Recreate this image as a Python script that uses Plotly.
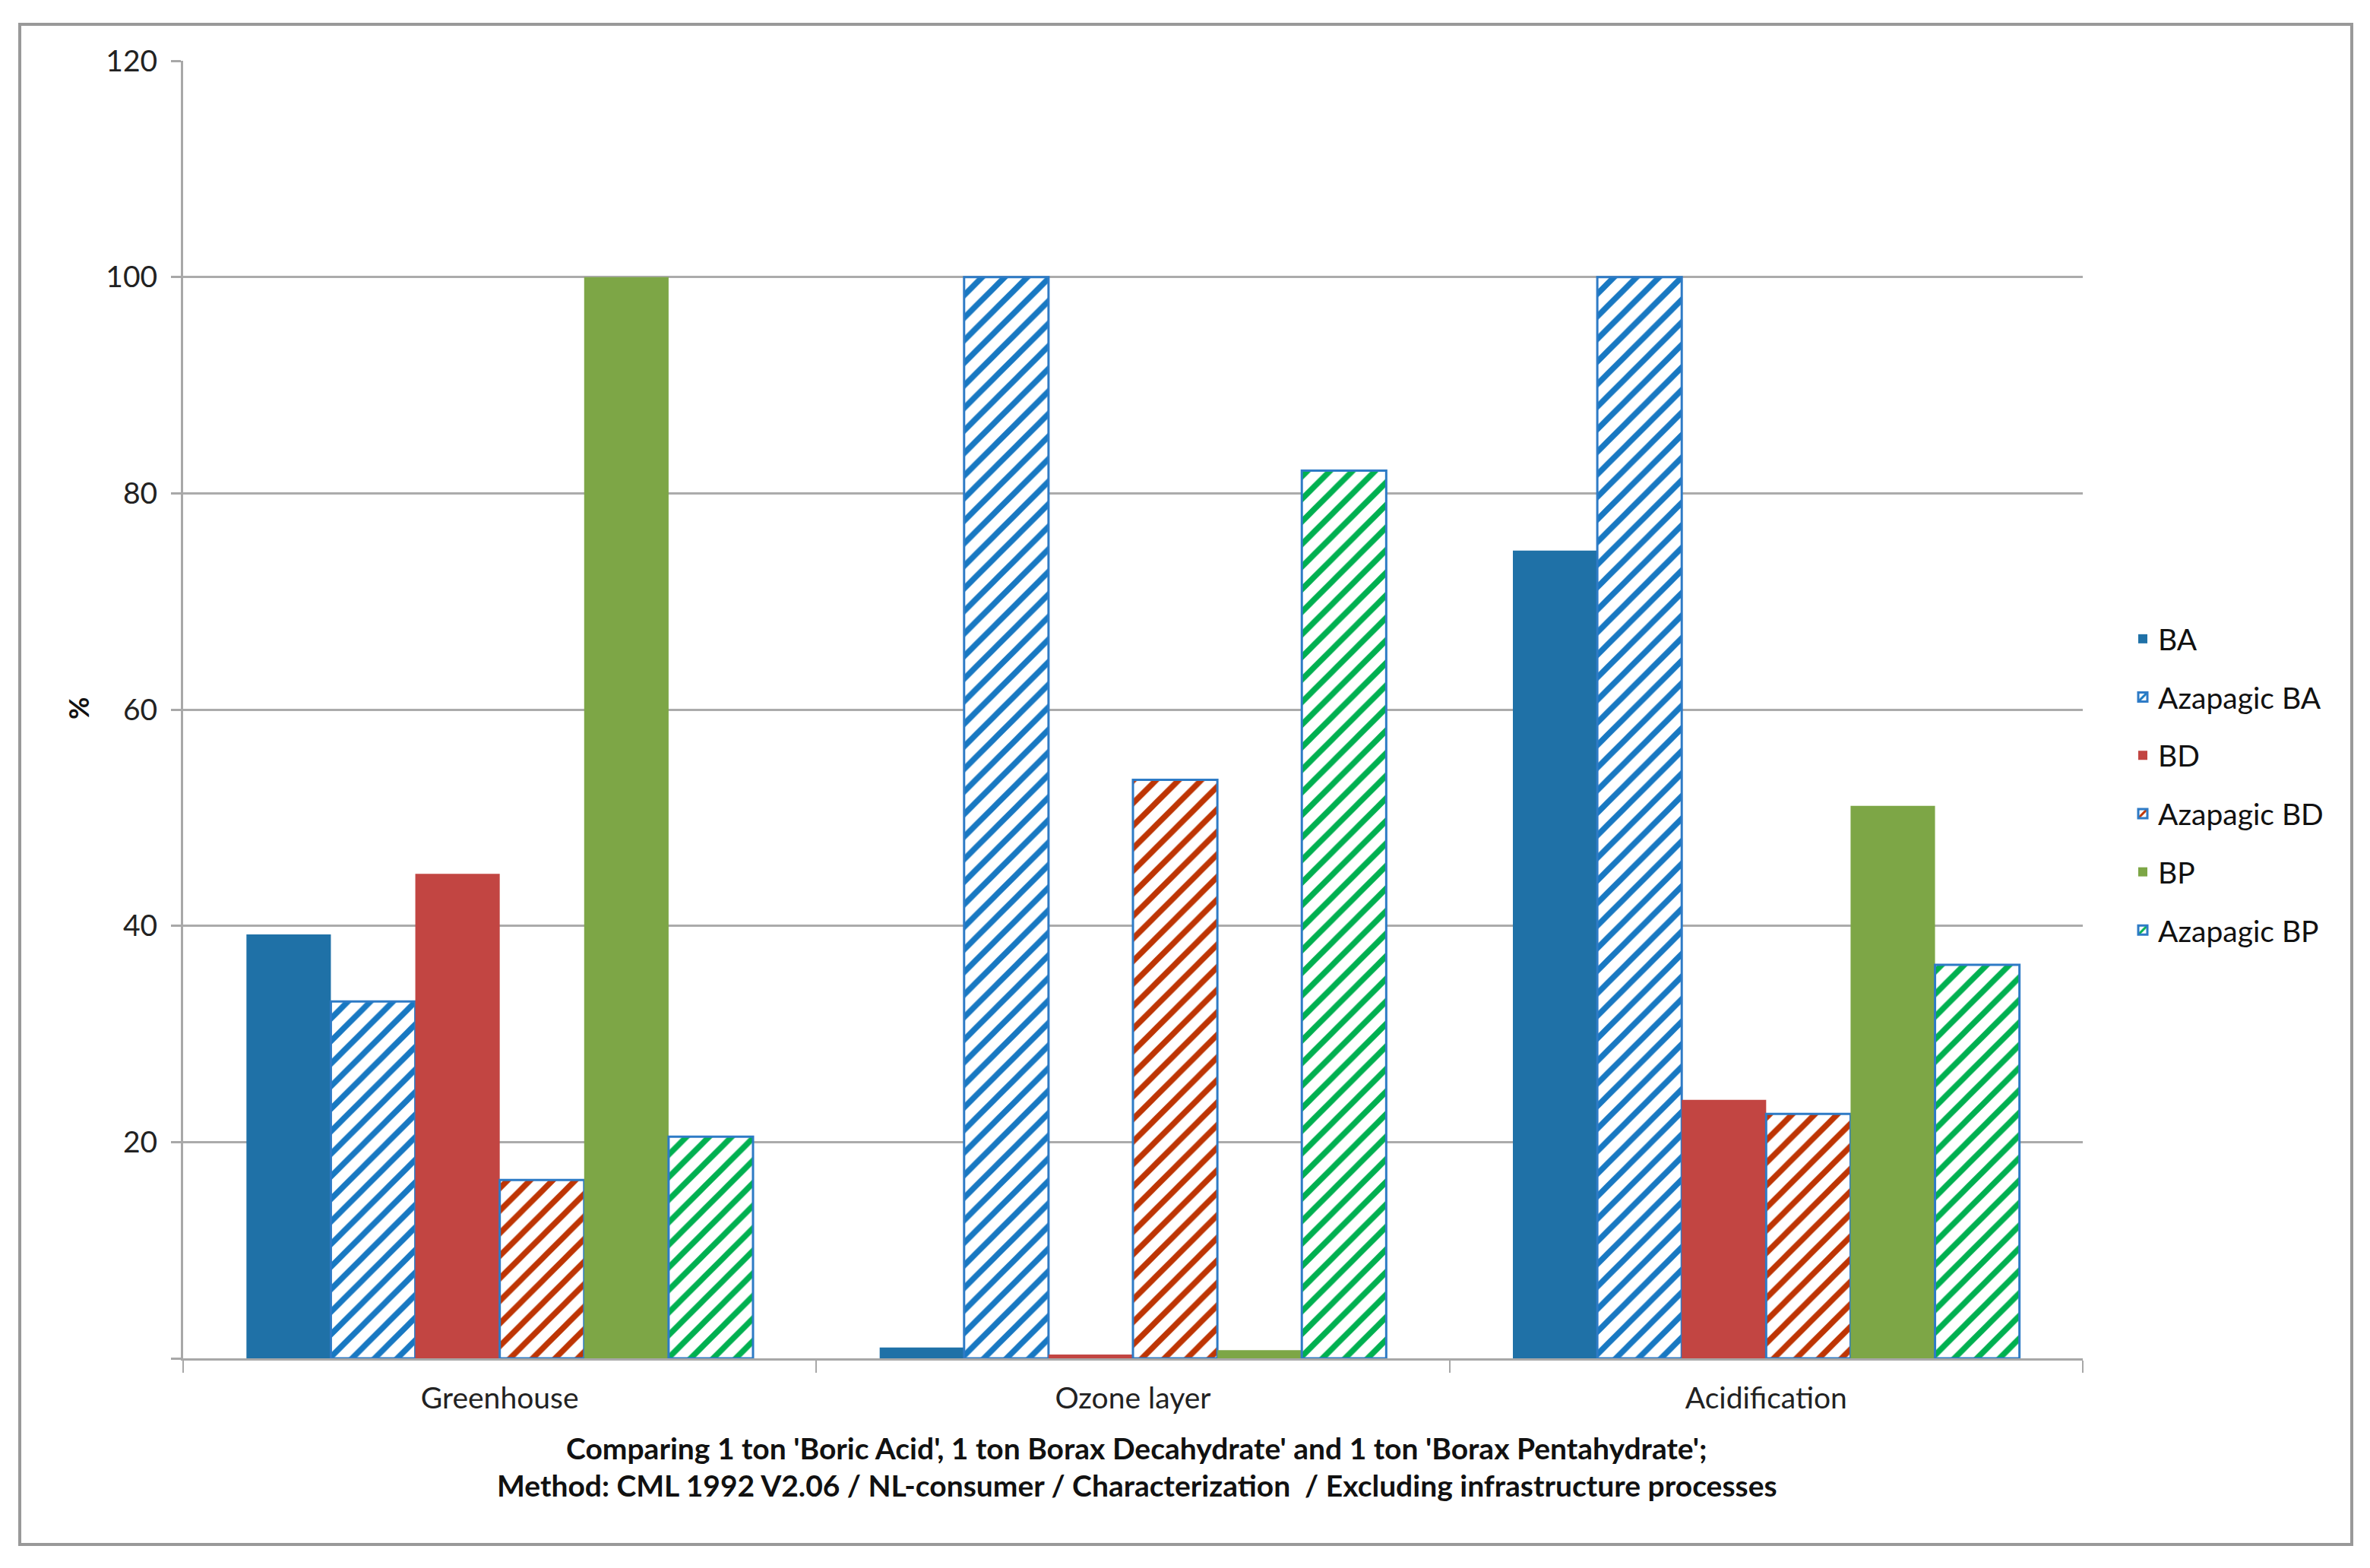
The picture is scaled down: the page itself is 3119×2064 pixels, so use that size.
import plotly.graph_objects as go

categories = ["Greenhouse", "Ozone layer", "Acidification"]
series_names = ["BA", "Azapagic BA", "BD", "Azapagic BD", "BP", "Azapagic BP"]
ba = [39.2, 1.0, 74.7]
az_ba = [33.0, 100.0, 100.0]
bd = [44.8, 0.35, 23.9]
az_bd = [16.5, 53.5, 22.6]
bp = [100.0, 0.75, 51.1]
az_bp = [20.5, 82.1, 36.4]
y_ticks = [0, 20, 40, 60, 80, 100, 120]
y_tick_text = ["", "20", "40", "60", "80", "100", "120"]
title_line1 = "Comparing 1 ton 'Boric Acid', 1 ton Borax Decahydrate' and 1 ton 'Borax Pentahydrate';"
title_line2 = "Method: CML 1992 V2.06 / NL-consumer / Characterization  / Excluding infrastructure processes"

# page body has an 8px margin, so work in page coords minus 8
OFF = 8
W, H = 3119 - 2 * OFF, 2064 - 2 * OFF
L, T = 241 - OFF, 80 - OFF
PW, PH = 2500, 1708
R, B = W - L - PW, H - T - PH

def px_x(x):
    return (x - OFF - L) / PW

def px_y(y):
    return (T + PH - (y - OFF)) / PH

FONT = "Lato"
OUTLINE = "#2E7BC6"

series_values = [ba, az_ba, bd, az_bd, bp, az_bp]
solid_colors = {"BA": "#1F71A7", "BD": "#C24542", "BP": "#7DA646"}
stripe_colors = {"Azapagic BA": "#1878C2", "Azapagic BD": "#BE3504", "Azapagic BP": "#00B050"}

fig = go.Figure()
for name, vals in zip(series_names, series_values):
    if name in solid_colors:
        marker = dict(color=solid_colors[name], line=dict(width=0))
    else:
        marker = dict(
            color="white",
            line=dict(color=OUTLINE, width=3),
            pattern=dict(shape="/", fgcolor=stripe_colors[name], bgcolor="white",
                         size=21, solidity=0.36, fillmode="replace", fgopacity=1),
        )
    fig.add_trace(go.Bar(x=categories, y=vals, name=name, marker=marker,
                         legendgroup=name))

fig.update_layout(
    width=W, height=H,
    margin=dict(l=L, r=R, t=T, b=B, autoexpand=False),
    paper_bgcolor="white", plot_bgcolor="white",
    barmode="group", bargap=0.2, bargroupgap=0,
    font=dict(family=FONT, size=39, color="#222222"),
    legend=dict(x=px_x(2800), y=px_y(1033), xanchor="left", yanchor="middle",
                font=dict(family=FONT, size=39, color="#111111"),
                tracegroupgap=23, bgcolor="rgba(0,0,0,0)"),
    showlegend=True,
)

fig.update_xaxes(
    type="category", showline=True, linecolor="#A8A8A8", linewidth=3,
    ticks="outside", tickson="boundaries", ticklen=16, tickcolor="#A8A8A8", tickwidth=2,
    showgrid=False, tickfont=dict(family=FONT, size=39, color="#222222"),
    ticklabelstandoff=16,
)
fig.update_yaxes(
    range=[0, 120], tickvals=y_ticks, ticktext=y_tick_text,
    showline=True, linecolor="#A8A8A8", linewidth=3,
    ticks="outside", ticklen=13, tickcolor="#A8A8A8", tickwidth=3,
    showgrid=True, gridcolor="#ABABAB", gridwidth=3, zeroline=False,
    tickfont=dict(family=FONT, size=39, color="#222222"),
    ticklabelstandoff=10,
)

# y axis title
fig.add_annotation(text="<b>%</b>", x=px_x(103), y=px_y(932), xref="paper", yref="paper",
                   xanchor="center", yanchor="middle",
                   textangle=-90, showarrow=False, font=dict(family=FONT, size=36, color="#111111"))
# bottom title lines
fig.add_annotation(text="<b>" + title_line1 + "</b>", x=px_x(1496), y=px_y(1906), xref="paper", yref="paper",
                   showarrow=False, xanchor="center", yanchor="middle",
                   font=dict(family=FONT, size=39, color="#111111"))
fig.add_annotation(text="<b>" + title_line2 + "</b>", x=px_x(1496), y=px_y(1955), xref="paper", yref="paper",
                   showarrow=False, xanchor="center", yanchor="middle",
                   font=dict(family=FONT, size=39, color="#111111"))

# outer chart border
fig.add_shape(type="rect", xref="paper", yref="paper",
              x0=px_x(26), x1=px_x(3095), y0=px_y(2033), y1=px_y(32),
              line=dict(color="#999999", width=4), fillcolor="rgba(0,0,0,0)", layer="below")

fig.write_html("out.html")
